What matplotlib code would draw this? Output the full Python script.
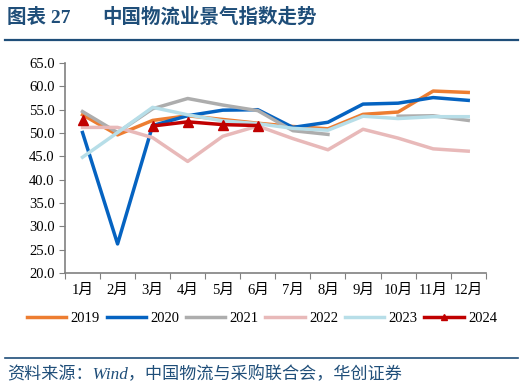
import numpy as np
import matplotlib
matplotlib.use('Agg')
import matplotlib.pyplot as plt
from matplotlib.lines import Line2D

plt.rcParams['font.family'] = ['Liberation Serif', 'Noto Sans CJK SC']

months = ['1月', '2月', '3月', '4月', '5月', '6月', '7月', '8月', '9月', '10月', '11月', '12月']
nan = np.nan
y2019 = [53.9, 49.6, 52.7, 53.7, 52.9, 52.1, 51.4, 50.9, 54.0, 54.5, 59.0, 58.7]
y2020 = [50.1, 26.2, 51.6, 53.7, 54.9, 55.0, 51.2, 52.3, 56.2, 56.4, 57.6, 57.0]
y2021 = [54.6, 50.1, 55.2, 57.4, 56.0, 54.8, 50.5, 49.7, nan, 53.6, 53.7, 52.7]
y2022 = [51.2, 51.2, 49.0, 43.9, 49.3, 51.5, 48.8, 46.4, 50.8, 48.9, 46.6, 46.1]
y2023 = [44.8, 50.1, 55.5, 53.9, 52.6, 52.0, 51.0, 50.6, 53.6, 53.1, 53.5, 53.5]
y2024 = [52.7, nan, 51.5, 52.4, 51.8, 51.6, nan, nan, nan, nan, nan, nan]

series = [('2019', y2019, '#ED7D31'), ('2020', y2020, '#0563C1'),
          ('2021', y2021, '#ADADAD'), ('2022', y2022, '#E8B9B9'),
          ('2023', y2023, '#B7DEE8'), ('2024', y2024, '#C00000')]

fig = plt.figure(figsize=(5.24, 3.87), dpi=100)
ax = fig.add_axes([0.124, 0.295, 0.803, 0.542])

x = np.arange(len(months))
handles = []
for name, vals, col in series:
    if name == '2024':
        l, = ax.plot(x, vals, color=col, lw=2.5, marker='^', markersize=7, zorder=5)
    else:
        l, = ax.plot(x, vals, color=col, lw=2.5)
    handles.append(l)

ax.set_xlim(-0.5, 11.5)
ax.set_ylim(20, 65)
ax.set_yticks(np.arange(20, 65.1, 5))
ax.set_yticklabels(['%.1f' % v for v in np.arange(20, 65.1, 5)], fontsize=10.5)
ax.set_xticks(np.arange(-0.5, 11.6, 1))
ax.set_xticklabels([])
ax.set_xticks(x, minor=True)
ax.set_xticklabels(months, minor=True, fontsize=10.5)
ax.tick_params(axis='x', which='minor', length=0, pad=8)
ax.tick_params(axis='x', which='major', length=4, color='#808080', direction='out')
ax.tick_params(axis='y', length=4, color='#808080', direction='out')
for s in ['top', 'right']:
    ax.spines[s].set_visible(False)
for s in ['left', 'bottom']:
    ax.spines[s].set_color('#808080')
    ax.spines[s].set_linewidth(1.2)

leg = fig.legend(handles, [s[0] for s in series], loc='center', bbox_to_anchor=(0.5, 0.178),
                 ncol=6, frameon=False, fontsize=10.5, handlelength=2.7, columnspacing=0.45,
                 handletextpad=0.3, markerscale=0.7)

# title and rules
fig.text(0.013, 0.955, '图表 27', fontsize=14, fontweight='bold',
         color='#1F4E79', va='center', family=['Liberation Serif', 'Noto Sans CJK SC'])
fig.text(0.196, 0.955, '中国物流业景气指数走势', fontsize=14, fontweight='bold',
         color='#1F4E79', va='center', family=['Noto Sans CJK SC'])
fig.add_artist(Line2D([0.01, 0.988], [0.897, 0.897], color='#1F4E79', lw=1.6))
fig.add_artist(Line2D([0.01, 0.988], [0.075, 0.075], color='#1F4E79', lw=1.2))
fig.text(0.013, 0.034, '资料来源：Wind，中国物流与采购联合会，华创证券', fontsize=12.3,
         style='italic', color='#1F4E79', va='center', family=['Liberation Serif', 'Noto Sans CJK SC'])

fig.savefig('out.png', dpi=100)
